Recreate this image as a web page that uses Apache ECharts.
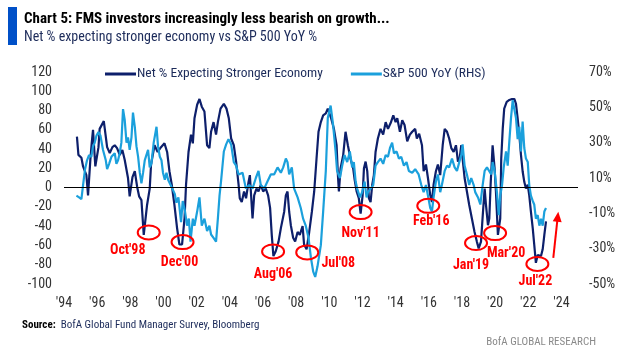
<!DOCTYPE html>
<html><head><meta charset="utf-8">
<script src="https://cdn.jsdelivr.net/npm/echarts@6/dist/echarts.min.js"></script>
<style>html,body{margin:0;padding:0;background:#fff}#c{width:623px;height:356px}</style>
</head><body><div id="c"></div>
<script>
// ---- data ----
const fmsName = 'Net % Expecting Stronger Economy';
const spxName = 'S&P 500 YoY (RHS)';
const fmsDates = [1994.78,1994.87,1995.05,1995.15,1995.25,1995.35,1995.45,1995.59,1995.67,1995.75,1995.89,1996.08,1996.15,1996.26,1996.40,1996.52,1996.60,1996.76,1996.92,1997.06,1997.20,1997.36,1997.52,1997.66,1997.86,1997.96,1998.13,1998.27,1998.41,1998.53,1998.67,1998.81,1999.01,1999.17,1999.25,1999.46,1999.65,1999.85,2000.06,2000.22,2000.36,2000.50,2000.66,2000.82,2000.96,2001.12,2001.27,2001.36,2001.51,2001.66,2001.77,2001.87,2002.03,2002.17,2002.31,2002.47,2002.63,2002.77,2002.87,2003.02,2003.17,2003.28,2003.44,2003.64,2003.80,2003.94,2004.08,2004.24,2004.38,2004.53,2004.60,2004.72,2004.86,2004.98,2005.13,2005.21,2005.27,2005.37,2005.47,2005.61,2005.73,2005.87,2006.01,2006.17,2006.31,2006.43,2006.53,2006.63,2006.77,2006.94,2007.08,2007.28,2007.38,2007.48,2007.58,2007.68,2007.82,2007.94,2008.09,2008.22,2008.39,2008.48,2008.63,2008.79,2008.95,2009.09,2009.23,2009.35,2009.49,2009.63,2009.79,2009.91,2010.11,2010.28,2010.44,2010.52,2010.58,2010.68,2010.84,2010.98,2011.12,2011.28,2011.44,2011.53,2011.65,2011.78,2011.89,2012.01,2012.09,2012.19,2012.29,2012.39,2012.49,2012.59,2012.69,2012.79,2012.93,2013.09,2013.25,2013.40,2013.54,2013.70,2013.86,2014.00,2014.10,2014.26,2014.40,2014.54,2014.70,2014.86,2015.00,2015.18,2015.28,2015.42,2015.59,2015.69,2015.83,2015.95,2016.09,2016.19,2016.29,2016.43,2016.55,2016.69,2016.84,2016.96,2017.10,2017.23,2017.36,2017.50,2017.64,2017.76,2017.86,2017.96,2018.04,2018.16,2018.30,2018.44,2018.60,2018.76,2018.90,2019.01,2019.15,2019.27,2019.37,2019.45,2019.57,2019.65,2019.73,2019.85,2019.97,2020.05,2020.17,2020.31,2020.37,2020.46,2020.55,2020.70,2020.86,2021.02,2021.16,2021.26,2021.36,2021.46,2021.56,2021.66,2021.76,2021.86,2021.97,2022.06,2022.16,2022.27,2022.36,2022.46,2022.57,2022.67,2022.77,2022.87,2022.97,2023.07];
const fmsValues = [53,34,31,22,20,13,-8,29,46,60,22,42,61,63,69,53,42,36,42,44,41,34,39,29,10,-9,11,17,1,-9,-13,-49,-18,-1,24,44,37,42,46,37,17,3,-18,-42,-59,-59,-32,3,37,55,46,72,86,92,84,79,44,41,58,68,55,68,82,87,82,72,51,44,27,3,-11,-15,-4,-11,6,13,-4,-32,-8,-1,-4,3,-4,-1,-8,-21,-49,-71,-66,-56,-42,-25,-8,-4,-25,-39,-52,-56,-46,-49,-40,-59,-64,-46,-25,-4,30,58,68,75,77,82,72,61,44,13,-4,20,34,58,44,30,20,8,-4,-11,-27,-8,20,27,17,-11,-15,3,13,37,51,61,55,68,61,67,75,68,72,58,70,65,48,55,58,61,51,56,44,17,24,10,-8,-15,3,17,24,13,44,61,58,51,41,37,44,27,30,44,30,10,-4,-18,-32,-46,-56,-63,-56,-25,-1,-18,-39,-32,3,44,20,-4,-49,-32,30,61,82,89,91,92,92,87,72,55,34,17,6,-1,3,-8,-25,-42,-59,-78,-70,-68,-71,-64,-49,-35];
const spxDates = [1994.75,1994.91,1995.05,1995.15,1995.27,1995.39,1995.51,1995.65,1995.75,1995.85,1995.96,1996.08,1996.20,1996.35,1996.52,1996.60,1996.72,1996.86,1996.96,1997.06,1997.16,1997.26,1997.36,1997.46,1997.56,1997.66,1997.77,1997.86,1997.96,1998.07,1998.16,1998.27,1998.37,1998.47,1998.57,1998.67,1998.77,1998.87,1998.97,1999.07,1999.17,1999.27,1999.41,1999.58,1999.67,1999.78,1999.88,1999.97,2000.08,2000.18,2000.28,2000.38,2000.48,2000.58,2000.68,2000.78,2000.90,2001.06,2001.16,2001.30,2001.42,2001.53,2001.63,2001.77,2001.87,2002.03,2002.17,2002.31,2002.47,2002.63,2002.77,2002.87,2003.03,2003.17,2003.28,2003.38,2003.47,2003.64,2003.78,2003.92,2004.08,2004.24,2004.38,2004.53,2004.77,2004.97,2005.17,2005.37,2005.57,2005.73,2005.87,2006.07,2006.27,2006.47,2006.67,2006.88,2007.08,2007.22,2007.38,2007.48,2007.58,2007.74,2007.88,2008.09,2008.28,2008.42,2008.58,2008.75,2008.89,2009.03,2009.15,2009.29,2009.49,2009.63,2009.79,2009.91,2010.08,2010.23,2010.38,2010.47,2010.64,2010.78,2010.92,2011.08,2011.24,2011.38,2011.48,2011.59,2011.68,2011.85,2011.98,2012.13,2012.25,2012.33,2012.49,2012.65,2012.79,2012.93,2013.09,2013.25,2013.40,2013.54,2013.66,2013.79,2013.90,2014.06,2014.20,2014.34,2014.50,2014.66,2014.80,2015.00,2015.18,2015.39,2015.55,2015.69,2015.83,2015.95,2016.09,2016.19,2016.29,2016.43,2016.55,2016.69,2016.79,2016.96,2017.10,2017.23,2017.40,2017.56,2017.70,2017.84,2017.96,2018.04,2018.16,2018.30,2018.44,2018.56,2018.71,2018.80,2018.97,2019.11,2019.25,2019.37,2019.51,2019.61,2019.77,2019.85,2019.97,2020.11,2020.22,2020.31,2020.42,2020.52,2020.66,2020.76,2020.86,2020.96,2021.06,2021.16,2021.26,2021.36,2021.46,2021.56,2021.66,2021.76,2021.86,2021.97,2022.06,2022.16,2022.27,2022.36,2022.46,2022.57,2022.67,2022.77,2022.87,2022.97,2023.07];
const spxValues = [0,-1,-2,6,15,20,23,22,28,30,34,36,34,26,20,15,18,22,21,24,18,20,24,30,49,43,30,33,26,33,47,39,28,22,13,7,13,20,21,26,16,18,30,39,28,22,20,13,9,13,9,7,5,4,1,-4,-1,-15,-3,-9,-17,-13,-26,-13,-17,-9,-1,-17,-13,-20,-17,-22,-24,-26,-13,0,8,25,29,32,29,19,17,12,13,4,6,4,10,14,6,4,8,12,12,16,13,16,21,19,12,16,4,-1,-7,-13,-17,-24,-35,-43,-46,-40,-28,-9,14,44,51,40,25,14,10,17,23,19,25,16,19,8,4,-1,2,8,-1,2,4,6,17,19,21,18,23,22,27,30,24,25,21,22,17,19,14,13,15,12,6,2,6,0,-7,-9,-1,8,12,2,6,14,17,16,21,16,14,19,23,29,17,12,6,10,6,2,-1,-5,6,14,16,17,12,19,14,2,-11,0,6,16,25,17,31,44,54,55,44,32,39,25,42,27,21,19,6,0,-3,-5,-13,-11,-17,-13,-17,-9,-7];
const leftTicks = {min: -100, max: 120, step: 20};
const rightTicks = {min: -50, max: 70, step: 20};
const xTicks = {min: 1994, max: 2025, step: 2, last: 2024};
// annotations: label, year, value (left axis) of circle, label offset in px
const annLabels = ["Oct'98","Dec'00","Aug'06","Jul'08","Nov'11","Feb'16","Jan'19","Mar'20","Jul'22"];
const annYears  = [1999.11,2001.15,2006.61,2008.67,2011.89,2015.97,2018.85,2020.00,2022.55];
const annValues = [-46.5,-56.5,-66.2,-67.2,-25.4,-18.9,-57.5,-47.2,-79.2];
const annDx = [-21,-3,0,31,0,3,-5,11,-2];
const annDy = [18,20,23,11,21,16,22,20,18];
const arrowFrom = [2023.51,-73];
const arrowTo = [2023.81,-25];

const FONT = "'Liberation Sans Narrow','Roboto Condensed','Roboto',sans-serif";
const NAVY = '#0d1f6b', LIGHT = '#1ba0dc', RED = '#ff0000';

const chart = echarts.init(document.getElementById('c'), null, {renderer: 'canvas'});
const fmsData = fmsDates.map((d, i) => [d, fmsValues[i]]);
const spxData = spxDates.map((d, i) => [d, spxValues[i]]);

const staticGraphics = [
  {type: 'rect', shape: {x: 8, y: 7, width: 9, height: 38}, style: {fill: '#0050c8'}},
  {type: 'text', x: 24, y: 19, style: {text: 'Chart 5: FMS investors increasingly less bearish on growth...', font: 'bold 15px ' + FONT, fill: '#000', textVerticalAlign: 'middle'}},
  {type: 'text', x: 24, y: 37, style: {text: 'Net % expecting stronger economy vs S&P 500 YoY %', font: '14px ' + FONT, fill: '#1c2b5a', textVerticalAlign: 'middle'}},
  {type: 'text', x: 22, y: 325, style: {text: '{b|Source:}  BofA Global Fund Manager Survey, Bloomberg', font: '11px ' + FONT, fill: '#1c2b5a', textVerticalAlign: 'middle',
    rich: {b: {font: 'bold 11px ' + FONT, fill: '#000'}}}},
  {type: 'text', x: 596, y: 342, style: {text: 'BofA GLOBAL RESEARCH', font: '11px ' + FONT, fill: '#8a8a8a', textAlign: 'right', textVerticalAlign: 'middle'}}
];

chart.setOption({
  animation: false,
  grid: {left: 64, right: 45, top: 72, bottom: 72},
  legend: {
    data: [fmsName, spxName], left: 105, top: 67, padding: 0, icon: 'rect', itemWidth: 31, itemHeight: 3, itemGap: 28,
    textStyle: {fontFamily: FONT, fontSize: 13.5, color: '#1c2b5a', padding: [0, 0, 0, -4]}
  },
  xAxis: {
    type: 'value', min: xTicks.min, max: xTicks.max, interval: xTicks.step,
    axisLine: {show: false}, axisTick: {show: false}, splitLine: {show: false},
    axisLabel: {showMaxLabel: false, margin: 12, fontFamily: FONT, fontSize: 14, color: '#333',
      formatter: v => (v % 2 === 0 && v <= xTicks.last) ? "'" + String(v).slice(2) : ''}
  },
  yAxis: [
    {type: 'value', min: leftTicks.min, max: leftTicks.max, interval: leftTicks.step,
      axisLine: {show: false}, axisTick: {show: false}, splitLine: {show: false},
      axisLabel: {margin: 12, fontFamily: FONT, fontSize: 14, color: '#333'}},
    {type: 'value', min: rightTicks.min, max: rightTicks.max, interval: 10,
      axisLine: {show: false}, axisTick: {show: false}, splitLine: {show: false},
      axisLabel: {margin: 11, fontFamily: FONT, fontSize: 14, color: '#333',
        formatter: v => ((v - rightTicks.min) % rightTicks.step === 0) ? v + '%' : ''}}
  ],
  series: [
    {name: fmsName, type: 'line', yAxisIndex: 0, data: fmsData, showSymbol: false, symbol: 'none',
      lineStyle: {color: NAVY, width: 2.2}, itemStyle: {color: NAVY},
      markLine: {silent: true, symbol: ['none', 'none'], label: {show: false},
        lineStyle: {color: '#000', width: 1, type: 'solid'}, data: [{yAxis: 0}]}},
    {name: spxName, type: 'line', yAxisIndex: 1, data: spxData, showSymbol: false, symbol: 'none',
      lineStyle: {color: LIGHT, width: 2.2}, itemStyle: {color: LIGHT}}
  ],
  graphic: {elements: staticGraphics}
});

// annotations placed through the chart's own coordinate system
const ann = [];
annLabels.forEach((lab, i) => {
  const p = chart.convertToPixel({xAxisIndex: 0, yAxisIndex: 0}, [annYears[i], annValues[i]]);
  ann.push({type: 'ellipse', shape: {cx: p[0], cy: p[1], rx: 11, ry: 7}, style: {fill: 'none', stroke: RED, lineWidth: 2}, z: 100});
  ann.push({type: 'text', x: p[0] + annDx[i], y: p[1] + annDy[i], z: 100,
    style: {text: lab, font: 'bold 14px ' + FONT, fill: RED, textAlign: 'center', textVerticalAlign: 'middle'}});
});
const a1 = chart.convertToPixel({xAxisIndex: 0, yAxisIndex: 0}, arrowFrom);
const a2 = chart.convertToPixel({xAxisIndex: 0, yAxisIndex: 0}, arrowTo);
const dx = a2[0] - a1[0], dy = a2[1] - a1[1], L = Math.sqrt(dx * dx + dy * dy);
const ux = dx / L, uy = dy / L, nx = -uy, ny = ux;
const hl = 10, hw = 4.5;
ann.push({type: 'line', shape: {x1: a1[0], y1: a1[1], x2: a2[0] - ux * (hl - 1), y2: a2[1] - uy * (hl - 1)}, style: {stroke: RED, lineWidth: 2}, z: 100});
ann.push({type: 'polygon', shape: {points: [[a2[0], a2[1]], [a2[0] - ux * hl + nx * hw, a2[1] - uy * hl + ny * hw], [a2[0] - ux * hl - nx * hw, a2[1] - uy * hl - ny * hw]]}, style: {fill: RED}, z: 100});

chart.setOption({graphic: {elements: staticGraphics.concat(ann)}});
</script>
</body></html>
